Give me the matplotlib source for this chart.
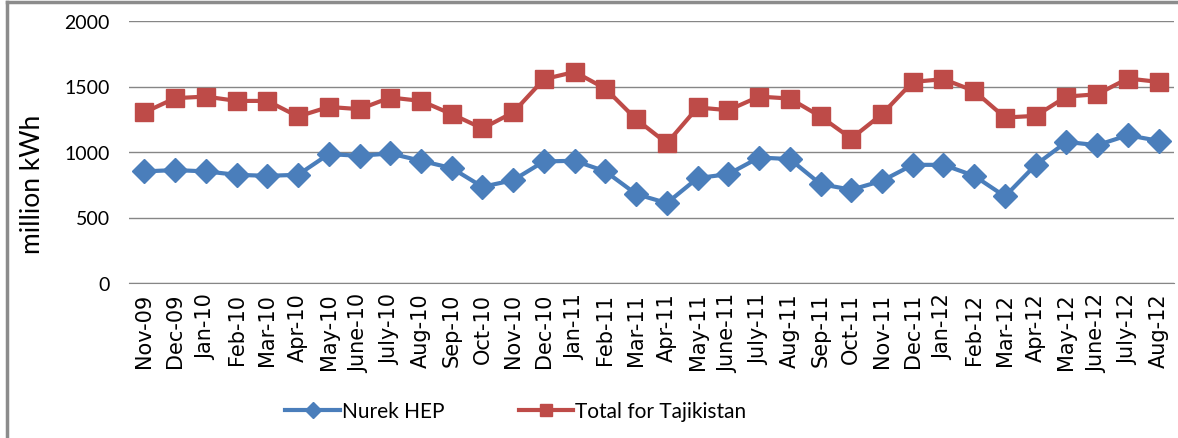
import numpy as np
import matplotlib.pyplot as plt
from matplotlib.lines import Line2D

months = ["Nov-09", "Dec-09", "Jan-10", "Feb-10", "Mar-10", "Apr-10", "May-10",
          "June-10", "July-10", "Aug-10", "Sep-10", "Oct-10", "Nov-10", "Dec-10",
          "Jan-11", "Feb-11", "Mar-11", "Apr-11", "May-11", "June-11", "July-11",
          "Aug-11", "Sep-11", "Oct-11", "Nov-11", "Dec-11", "Jan-12", "Feb-12",
          "Mar-12", "Apr-12", "May-12", "June-12", "July-12", "Aug-12"]

nurek = [852, 862, 852, 826, 818, 826, 984, 971, 989, 933, 877, 734, 785, 928,
         933, 852, 679, 610, 801, 831, 958, 946, 755, 712, 780, 902, 902, 818,
         661, 902, 1077, 1052, 1128, 1085]

total = [1302, 1411, 1423, 1390, 1390, 1271, 1344, 1327, 1416, 1390, 1289, 1180,
         1302, 1556, 1611, 1484, 1250, 1067, 1340, 1319, 1423, 1408, 1271, 1103,
         1289, 1535, 1556, 1466, 1263, 1276, 1423, 1441, 1561, 1535]

blue = "#4A7EBB"
red = "#BE4B48"

fig = plt.figure(figsize=(11.78, 4.39), dpi=100)
ax = fig.add_axes([129 / 1178, 1 - 284 / 439, (1174 - 129) / 1178, (284 - 22) / 439])

x = np.arange(len(months))
ax.plot(x, nurek, color=blue, lw=3, marker="D", ms=12, label="Nurek HEP")
ax.plot(x, total, color=red, lw=3, marker="s", ms=13, label="Total for Tajikistan")

ax.set_xlim(-0.5, len(months) - 0.5)
ax.set_ylim(0, 2000)
ax.set_yticks([0, 500, 1000, 1500, 2000])
ax.yaxis.grid(True, color="#868686", lw=1)
ax.set_axisbelow(True)
ax.set_xticks(x)
ax.set_xticklabels(months, rotation=90, fontsize=15)
for lab in ax.get_yticklabels():
    lab.set_family("Lato")
ax.tick_params(axis="y", labelsize=14, length=0, pad=14)
ax.tick_params(axis="x", length=0, pad=7)
for s in ["top", "right", "left"]:
    ax.spines[s].set_visible(False)
ax.spines["bottom"].set_color("#868686")
ax.set_ylabel("million kWh", fontsize=19, family="Lato")
ax.yaxis.set_label_coords(-0.08, 0.38)

leg = fig.legend(loc="center", bbox_to_anchor=(516 / 1178, 1 - 412 / 439), ncol=2,
                 frameon=False, prop={"family": "Lato", "size": 15},
                 handlelength=2.6, columnspacing=3.6, handletextpad=0.1)
for h in leg.legend_handles:
    h.set_markersize(8)

# chart frame (only top and left edges visible in the original)
fig.add_artist(Line2D([7 / 1178, 7 / 1178], [0, 1 - 3 / 439],
                      transform=fig.transFigure, color="#8c8c8c", lw=2.5))
fig.add_artist(Line2D([7 / 1178, 1], [1 - 3 / 439, 1 - 3 / 439],
                      transform=fig.transFigure, color="#8c8c8c", lw=2.5))

fig.savefig("out.png", dpi=100)
